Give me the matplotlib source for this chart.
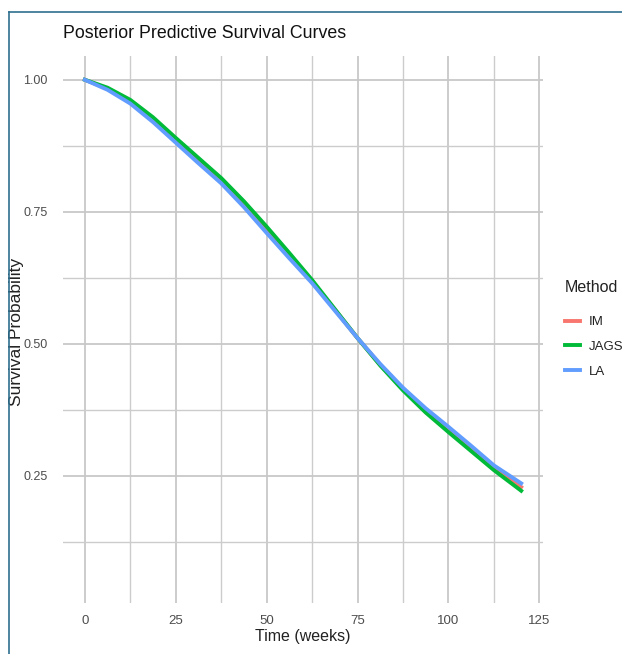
import numpy as np
import matplotlib
matplotlib.use('Agg')
import matplotlib.pyplot as plt
from matplotlib.lines import Line2D
from matplotlib.ticker import MultipleLocator

plt.rcParams['font.family'] = ['Liberation Sans', 'DejaVu Sans']

weeks = [0, 6.25, 12.5, 18.75, 25, 31.25, 37.5, 43.75, 50, 56.25, 62.5,
         68.75, 75, 81.25, 87.5, 93.75, 100, 106.25, 112.5, 120]
surv_im = [1.000, 0.983, 0.959, 0.925, 0.886, 0.847, 0.809, 0.765, 0.716, 0.667,
           0.618, 0.565, 0.511, 0.460, 0.414, 0.374, 0.338, 0.302, 0.266, 0.229]
surv_jags = [1.000, 0.985, 0.962, 0.929, 0.890, 0.852, 0.814, 0.770, 0.722, 0.672,
             0.621, 0.566, 0.511, 0.459, 0.412, 0.370, 0.333, 0.297, 0.261, 0.222]
surv_la = [1.000, 0.981, 0.955, 0.920, 0.881, 0.842, 0.804, 0.759, 0.710, 0.662,
           0.615, 0.563, 0.511, 0.462, 0.417, 0.378, 0.343, 0.307, 0.270, 0.236]
methods = ['IM', 'JAGS', 'LA']
colors = ['#F8766D', '#00BA38', '#619CFF']

W, H = 622, 654
fig = plt.figure(figsize=(W / 100, H / 100), dpi=100)
ax = fig.add_axes([63 / W, 1 - 603 / H, 480 / W, 547 / H])

for s, name, c in zip([surv_im, surv_jags, surv_la], methods, colors):
    ax.plot(weeks, s, color=c, lw=2.8, label=name)

ax.set_xlim(-6, 126)
ax.set_ylim(0.0095, 1.045)
ax.xaxis.set_major_locator(MultipleLocator(25))
ax.xaxis.set_minor_locator(MultipleLocator(12.5))
ax.yaxis.set_minor_locator(MultipleLocator(0.125))
ax.set_yticks([0.25, 0.5, 0.75, 1.0])
ax.set_yticklabels(['0.25', '0.50', '0.75', '1.00'])
ax.grid(which='major', color='#c8c8c8', lw=1.3)
ax.grid(which='minor', color='#cccccc', lw=1.0)
ax.set_axisbelow(True)
for sp in ax.spines.values():
    sp.set_visible(False)
ax.tick_params(which='both', length=0, colors='#4d4d4d', labelsize=9.5)
ax.tick_params(axis='y', labelsize=9, pad=11)
ax.tick_params(axis='x', pad=9)

ax.set_xlabel('Time (weeks)', fontsize=11.5, color='#222222', labelpad=1)
ax.set_ylabel('Survival Probability', fontsize=12.5, color='#222222')
ax.yaxis.set_label_coords(-0.082, 0.495)

fig.text(63 / W, 1 - 33 / H, 'Posterior Predictive Survival Curves',
         fontsize=12.8, color='#111111', va='center', ha='left')

fig.text(565 / W, 1 - 287 / H, 'Method', fontsize=11.5, color='#222222',
         va='center', ha='left')
leg = fig.legend(loc='upper left', bbox_to_anchor=(565 / W, 1 - 316 / H),
                 frameon=False, fontsize=9.5, handlelength=1.1,
                 handletextpad=0.7, labelspacing=0.95, borderpad=0,
                 borderaxespad=0)
for t in leg.get_texts():
    t.set_color('#222222')

# frame lines on top and left of the image
edge = '#2f6f8f'
fig.add_artist(Line2D([9 / W, 1], [1 - 12 / H, 1 - 12 / H], color=edge, lw=1.2))
fig.add_artist(Line2D([9 / W, 9 / W], [0, 1 - 12 / H], color=edge, lw=1.2))

fig.savefig('out.png', dpi=100)
